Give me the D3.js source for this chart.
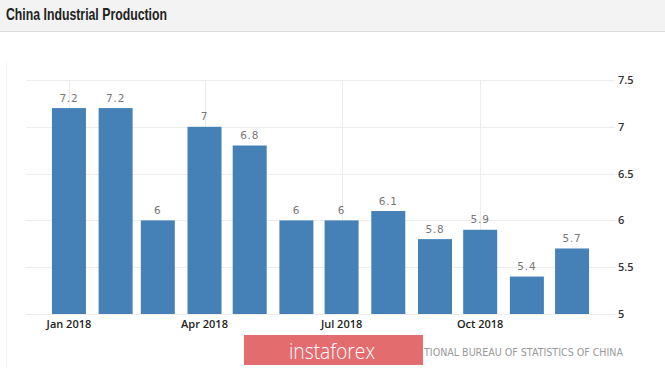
<!DOCTYPE html>
<html><head><meta charset="utf-8">
<script src="https://cdn.jsdelivr.net/npm/d3@7"></script>
<style>
html,body{margin:0;padding:0;background:#fff;}
svg{display:block;}
</style></head>
<body>
<svg id="c" width="665" height="368"></svg>
<script>
const title = "China Industrial Production";
const months = ["2018-01","2018-02","2018-03","2018-04","2018-05","2018-06","2018-07","2018-08","2018-09","2018-10","2018-11","2018-12"];
const values = [7.2,7.2,6.0,7.0,6.8,6.0,6.0,6.1,5.8,5.9,5.4,5.7];
const valueLabels = ["7.2","7.2","6","7","6.8","6","6","6.1","5.8","5.9","5.4","5.7"];
const yTicks = [5,5.5,6,6.5,7,7.5];
const xTickMonths = ["2018-01","2018-04","2018-07","2018-10"];
const sourceText = "TIONAL BUREAU OF STATISTICS OF CHINA";
const watermark = "instaforex";

const svg = d3.select("#c");
const parse = d3.utcParse("%Y-%m");
const dates = months.map(parse);

const x = d3.scaleUtc()
  .domain([new Date(Date.UTC(2017,11,3,12)), new Date(Date.UTC(2018,11,29,12))])
  .range([26,615]);
const y = d3.scaleLinear().domain([5,7.5]).range([314,80]);
const barW = 34;

// title bar
svg.append("rect").attr("x",0).attr("y",0).attr("width",665).attr("height",31).attr("fill","#f3f3f3");
svg.append("line").attr("x1",0).attr("x2",665).attr("y1",31.5).attr("y2",31.5).attr("stroke","#dcdcdc");
svg.append("text").attr("x",6).attr("y",19.5).text(title)
  .attr("font-family","Liberation Sans, Arial, sans-serif").attr("font-weight","bold")
  .attr("font-size",17).attr("fill","#222")
  .attr("textLength",161).attr("lengthAdjust","spacingAndGlyphs");

// faint frame line on left
svg.append("line").attr("x1",6.5).attr("x2",6.5).attr("y1",62).attr("y2",368).attr("stroke","#f3f3f3");

// horizontal gridlines
svg.append("g").selectAll("line").data(yTicks).join("line")
  .attr("x1",26).attr("x2",615).attr("y1",d=>Math.round(y(d))+0.5).attr("y2",d=>Math.round(y(d))+0.5)
  .attr("stroke","#ececec");
// vertical gridlines
svg.append("g").selectAll("line").data(xTickMonths.map(parse)).join("line")
  .attr("x1",d=>Math.round(x(d))+0.5).attr("x2",d=>Math.round(x(d))+0.5)
  .attr("y1",80).attr("y2",314).attr("stroke","#ececec");

// bars
svg.append("g").selectAll("rect").data(values).join("rect")
  .attr("x",(d,i)=>x(dates[i])-barW/2).attr("width",barW)
  .attr("y",d=>y(d)).attr("height",d=>y(5)-y(d))
  .attr("fill","#4581b6");

// value labels
svg.append("g").selectAll("text").data(values).join("text")
  .attr("x",(d,i)=>x(dates[i])).attr("y",d=>y(d)-6.5)
  .attr("text-anchor","middle").attr("font-family","DejaVu Sans, sans-serif")
  .attr("font-size",10.5).attr("letter-spacing",0.8).attr("fill","#777")
  .text((d,i)=>valueLabels[i]);

// y axis labels (right)
svg.append("g").selectAll("text").data(yTicks).join("text")
  .attr("x",618).attr("y",d=>y(d)+4)
  .attr("font-family","Open Sans, sans-serif").attr("font-weight",600)
  .attr("font-size",11).attr("fill","#333")
  .text(d=>d3.format("~g")(d));

// x axis labels
const fmt = d3.utcFormat("%b %Y");
svg.append("g").selectAll("text").data(xTickMonths.map(parse)).join("text")
  .attr("x",d=>x(d)).attr("y",328)
  .attr("text-anchor","middle").attr("font-family","Open Sans, sans-serif").attr("font-weight",600)
  .attr("font-size",11).attr("fill","#222")
  .text(d=>fmt(d));

// source text (partly hidden behind watermark in the original)
svg.append("text").attr("x",424).attr("y",356)
  .attr("font-family","DejaVu Sans, sans-serif").attr("font-size",10).attr("fill","#999")
  .attr("textLength",199).attr("lengthAdjust","spacingAndGlyphs")
  .text(sourceText);

// watermark
svg.append("rect").attr("x",244).attr("y",335).attr("width",179).attr("height",30).attr("fill","#e36c6f");
svg.append("text").attr("x",332).attr("y",359).attr("text-anchor","middle")
  .attr("font-family","Open Sans, sans-serif").attr("font-weight",300)
  .attr("font-size",22).attr("fill","#fff")
  .attr("textLength",86).attr("lengthAdjust","spacingAndGlyphs")
  .text(watermark);
</script>
</body></html>
